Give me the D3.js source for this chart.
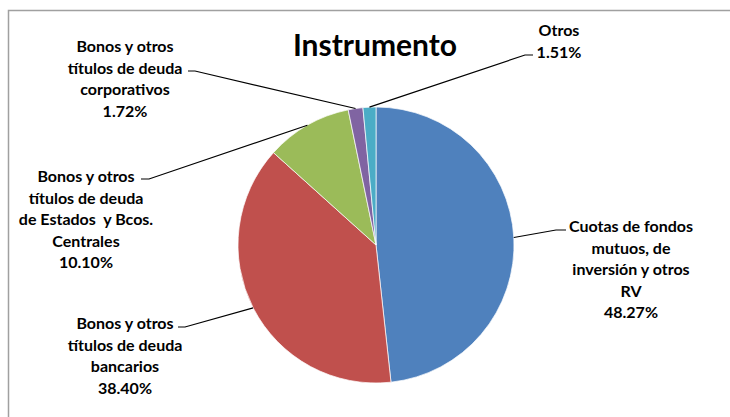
<!DOCTYPE html>
<html>
<head>
<meta charset="utf-8">
<script src="https://cdn.jsdelivr.net/npm/d3@7"></script>
<style>
  html, body { margin: 0; padding: 0; background: #fff; }
  svg { display: block; }
  text { font-family: Lato, "Open Sans", sans-serif; font-weight: bold; fill: #000; }
</style>
</head>
<body>
<svg id="chart" width="730" height="417"></svg>
<script>
// ---- data ----
const categories = [
  "Cuotas de fondos mutuos, de inversión y otros RV",
  "Bonos y otros títulos de deuda bancarios",
  "Bonos y otros títulos de deuda de Estados y Bcos. Centrales",
  "Bonos y otros títulos de deuda corporativos",
  "Otros"
];
const values = [48.27, 38.40, 10.10, 1.72, 1.51];
const valueLabels = ["48.27%", "38.40%", "10.10%", "1.72%", "1.51%"];
const labelLines = [
  ["Cuotas de fondos", "mutuos, de", "inversión y otros", "RV"],
  ["Bonos y otros", "títulos de deuda", "bancarios"],
  ["Bonos y otros", "títulos de deuda", "de Estados  y Bcos.", "Centrales"],
  ["Bonos y otros", "títulos de deuda", "corporativos"],
  ["Otros"]
];
const colors = ["#4F81BD", "#C0504D", "#9BBB59", "#8064A2", "#4BACC6"];

// ---- layout (label placement) ----
const labelLayout = [
  { cx: 631, top: 232, elbow: [556, 230], end: [566, 230] },
  { cx: 125, top: 329, elbow: [185, 327], end: [178, 327] },
  { cx: 86,  top: 182, elbow: [149, 179], end: [141, 179] },
  { cx: 125, top: 52,  elbow: [195, 71],  end: [188, 71] },
  { cx: 559, top: 36,  elbow: [525, 55],  end: [533, 55] }
];
const lineH = 21.5;

const svg = d3.select("#chart");

// frame
svg.append("path")
  .attr("d", "M8.5,417 L8.5,10.5 L730,10.5")
  .attr("fill", "none")
  .attr("stroke", "#a0a0a0")
  .attr("stroke-width", 1.5);

// title
svg.append("text")
  .attr("x", 375).attr("y", 56)
  .attr("text-anchor", "middle")
  .style("font-size", "30px")
  .text("Instrumento");

const cx = 376, cy = 245, r = 138;
const g = svg.append("g").attr("transform", `translate(${cx},${cy})`);

const pie = d3.pie().sort(null).value(d => d)(values);
const arc = d3.arc().innerRadius(0).outerRadius(r);

g.selectAll("path.slice")
  .data(pie)
  .join("path")
  .attr("class", "slice")
  .attr("d", arc)
  .attr("fill", (d, i) => colors[i])
  .attr("stroke", "#fff")
  .attr("stroke-width", 0.7);

// leader lines
pie.forEach((d, i) => {
  const a = (d.startAngle + d.endAngle) / 2;
  const px = cx + r * Math.sin(a), py = cy - r * Math.cos(a);
  const L = labelLayout[i];
  svg.append("polyline")
    .attr("points", `${px},${py} ${L.elbow[0]},${L.elbow[1]} ${L.end[0]},${L.end[1]}`)
    .attr("fill", "none")
    .attr("stroke", "#000")
    .attr("stroke-width", 1.2);
});

// labels
labelLines.forEach((lines, i) => {
  const L = labelLayout[i];
  const all = lines.concat([valueLabels[i]]);
  const t = svg.append("text")
    .attr("text-anchor", "middle")
    .style("font-size", "16px");
  all.forEach((s, k) => {
    t.append("tspan")
      .attr("x", L.cx)
      .attr("y", L.top + k * lineH)
      .attr("xml:space", "preserve")
      .text(s);
  });
});
</script>
</body>
</html>
